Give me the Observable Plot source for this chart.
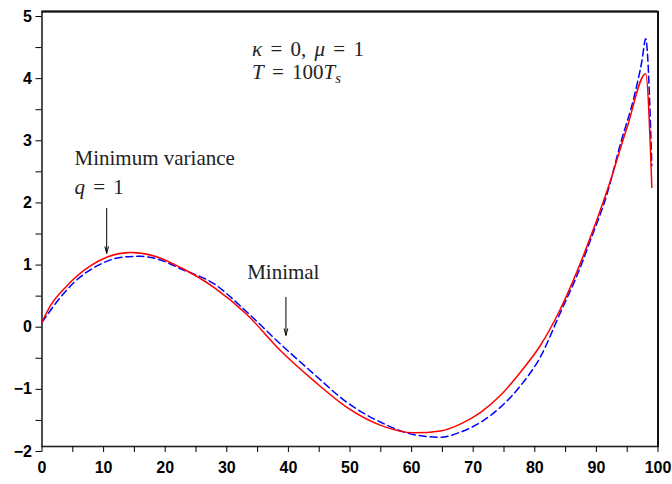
<!DOCTYPE html>
<html>
<head>
<meta charset="utf-8">
<script src="https://cdn.jsdelivr.net/npm/d3@7"></script>
<script src="https://cdn.jsdelivr.net/npm/@observablehq/plot@0.6"></script>
<style>
  html, body { margin: 0; padding: 0; background: #fff; overflow: hidden; }
</style>
</head>
<body>
<div id="chart"></div>
<script>
// Minimal (red, solid)
const xRed = [0, 1.4, 3.8, 7.9, 10.6, 14.4, 18.7, 22.5, 27.9, 33.3, 38.7, 44.1, 49.5, 55, 60.4, 64.7, 67.9, 71.2, 74.4, 77.7, 80.9, 84, 88, 91.75, 95, 98, 99];
const yRed = [0, 0.27, 0.56, 0.91, 1.05, 1.12, 1.05, 0.88, 0.56, 0.12, -0.455, -0.94, -1.37, -1.66, -1.78, -1.75, -1.64, -1.45, -1.18, -0.80, -0.375, 0.18, 1.10, 2.12, 3.14, 4.0, 2.17];
// Minimum variance q = 1 (blue, dashed)
const xBlue = [0, 3, 5.2, 9, 13.3, 16, 19, 22.5, 27.9, 33.3, 38.7, 44.1, 49.5, 55, 60.4, 64.7, 67.9, 71.2, 74.4, 77.7, 80.9, 84, 87.4, 89, 91.75, 93.9, 96.1, 97.4, 98, 99];
const yBlue = [0, 0.40, 0.64, 0.91, 1.05, 1.06, 1.01, 0.86, 0.62, 0.16, -0.35, -0.83, -1.29, -1.61, -1.81, -1.85, -1.77, -1.61, -1.37, -1.02, -0.56, 0.12, 0.885, 1.31, 2.07, 2.87, 3.62, 4.21, 4.56, 2.52];

const xTicks = d3.range(0, 101, 5);
const yTicks = d3.range(-2, 5.001, 0.5);

// annotations (data coordinates)
const labelText = ["Minimum variance", "q = 1", "κ = 0, μ = 1", "T = 100Ts", "Minimal"];
const labelX = [5.28, 5.28, 34.1, 34.1, 33.3];
const labelY = [2.64, 2.17, 4.395, 4.025, 0.80];
const arrowX = [10.5, 39.6];
const arrowY1 = [1.83, 0.40];
const arrowY2 = [1.11, -0.21];

const red = xRed.map((x, i) => ({x, y: yRed[i]}));
const blue = xBlue.map((x, i) => ({x, y: yBlue[i]}));
const labels = labelText.map((t, i) => ({t, x: labelX[i], y: labelY[i]}));
const arrows = arrowX.map((x, i) => ({x, y1: arrowY1[i], y2: arrowY2[i]}));

const num = d => d < 0 ? "\u2212" + (-d) : String(d);
const fmtX = d => d % 10 === 0 ? num(d) : "";
const fmtY = d => Number.isInteger(d) ? num(d) : "";

const plot = Plot.plot({
  width: 672,
  height: 484,
  marginLeft: 41.5,
  marginRight: 14.5,
  marginTop: 11,
  marginBottom: 38,
  style: {fontFamily: "Liberation Sans, Arial, sans-serif", fontWeight: "bold", fontSize: "16px"},
  x: {domain: [0, 100]},
  y: {domain: [-2, 5]},
  marks: [
    Plot.frame({stroke: "#222", strokeWidth: 1.6}),
    Plot.axisX({ticks: xTicks, tickFormat: fmtX, tickSize: 6, tickPadding: 9, fontSize: 16, fontWeight: "bold", label: null}),
    Plot.axisY({ticks: yTicks, tickFormat: fmtY, tickSize: 6, tickPadding: 4, dy: 5, fontSize: 16, fontWeight: "bold", label: null}),
    Plot.line(blue, {x: "x", y: "y", stroke: "#0000ff", strokeWidth: 1.5, strokeDasharray: "7,4", curve: "monotone-x"}),
    Plot.line(red, {x: "x", y: "y", stroke: "#ff0000", strokeWidth: 1.5, curve: "monotone-x"}),
    Plot.arrow(arrows, {x: "x", y1: "y1", y2: "y2", stroke: "#000", strokeWidth: 1, headLength: 10, headAngle: 30}),
    Plot.text(labels, {x: "x", y: "y", text: "t", textAnchor: "start", fontFamily: "Liberation Serif, Times New Roman, serif", fontSize: 21, fontWeight: "normal", fill: "#222"}),
    Plot.ruleY([5], {stroke: "#111", strokeWidth: 2}),
    Plot.ruleX([100], {stroke: "#111", strokeWidth: 2})
  ]
});

function rich(svg, key, parts) {
  d3.select(svg).selectAll("text").filter(function() { return this.textContent === key; }).each(function() {
    const t = d3.select(this);
    t.text("").attr("font-weight", "normal").style("word-spacing", "3px");
    parts.forEach(p => {
      const s = t.append("tspan").text(p.t);
      if (p.i) s.attr("font-style", "italic");
      if (p.sub) s.attr("font-size", "70%").attr("dy", "0.3em");
    });
  });
}
rich(plot, "q = 1", [{t: "q", i: true}, {t: " = 1"}]);
rich(plot, "κ = 0, μ = 1", [{t: "κ", i: true}, {t: " = 0, "}, {t: "μ", i: true}, {t: " = 1"}]);
rich(plot, "T = 100Ts", [{t: "T", i: true}, {t: " = 100"}, {t: "T", i: true}, {t: "s", i: true, sub: true}]);

document.getElementById("chart").appendChild(plot);
</script>
</body>
</html>
